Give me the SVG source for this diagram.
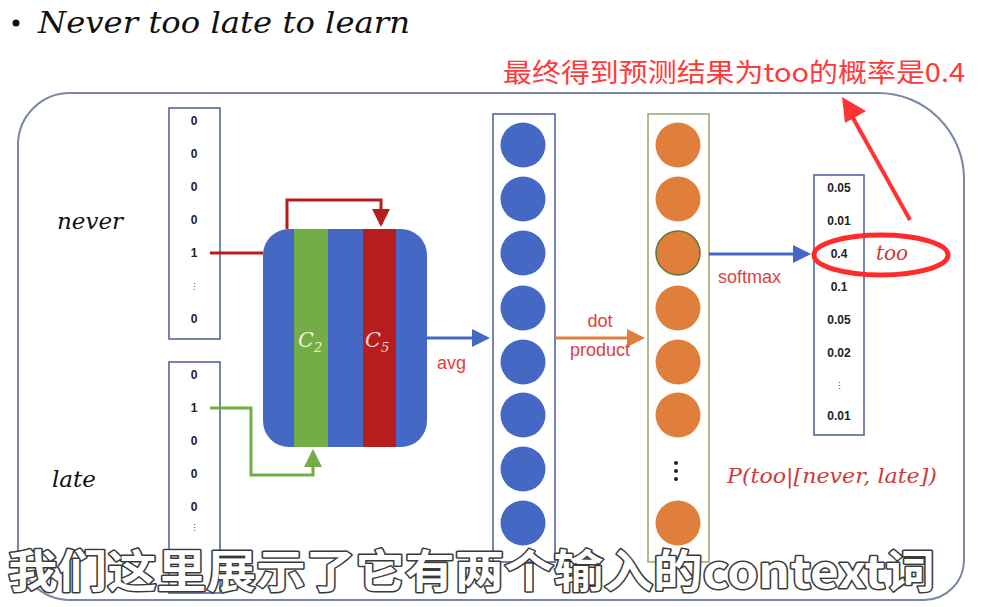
<svg xmlns="http://www.w3.org/2000/svg" width="982" height="607" viewBox="0 0 982 607">
<style>
.num{font-family:"Liberation Sans",Arial,sans-serif;font-weight:bold;font-size:12px;fill:#222;text-anchor:middle}
.dots{font-family:"Liberation Sans",Arial,sans-serif;font-size:9px;fill:#444;text-anchor:middle}
.vbox{fill:#fff;stroke:#4a5a9a;stroke-width:1.5}
.lab{font-family:"Liberation Sans",Arial,sans-serif;font-size:18px;fill:#e04040}
.word{font-family:"DejaVu Serif","Liberation Serif",serif;font-style:italic;font-size:23px;fill:#111}
.it{font-family:"DejaVu Serif","Liberation Serif",serif;font-style:italic}
.bc{fill:#4468c4}
.oc{fill:#e07f3c}
</style>
<defs>
<marker id="ahRed" markerWidth="6" markerHeight="6" refX="5" refY="3" orient="auto" markerUnits="strokeWidth"><path d="M0,0 L6,3 L0,6 z" fill="#b81d1d"/></marker>
<marker id="ahGreen" markerWidth="6" markerHeight="6" refX="5" refY="3" orient="auto" markerUnits="strokeWidth"><path d="M0,0 L6,3 L0,6 z" fill="#72ad47"/></marker>
<marker id="ahBlue" markerWidth="6" markerHeight="6" refX="5" refY="3" orient="auto" markerUnits="strokeWidth"><path d="M0,0 L6,3 L0,6 z" fill="#4468c4"/></marker>
<marker id="ahOrange" markerWidth="6" markerHeight="6" refX="5" refY="3" orient="auto" markerUnits="strokeWidth"><path d="M0,0 L6,3 L0,6 z" fill="#e07f3c"/></marker>
<clipPath id="mclip"><rect x="263" y="229" width="164" height="218" rx="26"/></clipPath>
</defs>
<rect width="982" height="607" fill="#fff"/>

<g id="title">
<circle cx="16" cy="23" r="3.5" fill="#111"/>
<text class="it" x="38" y="33" font-size="30" fill="#111" textLength="372" lengthAdjust="spacingAndGlyphs">Never too late to learn</text>
</g>

<g id="frame">
<path d="M 70 93 H 878 A 86 86 0 0 1 964 179 V 560 A 40 40 0 0 1 924 600 H 70 A 52 52 0 0 1 18 548 V 145 A 52 52 0 0 1 70 93 Z" fill="none" stroke="#7a86a8" stroke-width="2"/>
</g>

<g id="word-never"><text class="word" x="57" y="229">never</text></g>
<g id="word-late"><text class="word" x="52" y="487">late</text></g>

<g id="vec-never">
<rect class="vbox" x="169" y="108" width="51" height="231"/>
<text class="num" x="194" y="125">0</text>
<text class="num" x="194" y="158">0</text>
<text class="num" x="194" y="191">0</text>
<text class="num" x="194" y="224">0</text>
<text class="num" x="194" y="257">1</text>
<text class="dots" x="194" y="290">⋮</text>
<text class="num" x="194" y="323">0</text>
</g>

<g id="vec-late">
<rect class="vbox" x="169" y="362" width="51" height="231"/>
<text class="num" x="194" y="379">0</text>
<text class="num" x="194" y="412">1</text>
<text class="num" x="194" y="445">0</text>
<text class="num" x="194" y="478">0</text>
<text class="num" x="194" y="511">0</text>
<text class="dots" x="194" y="531">⋮</text>
</g>

<g id="matrix">
<g clip-path="url(#mclip)">
<rect x="263" y="229" width="164" height="218" fill="#4468c4"/>
<rect x="294" y="229" width="34" height="218" fill="#72ad47"/>
<rect x="363" y="229" width="33" height="218" fill="#b81d1d"/>
</g>
<text class="it" x="298" y="347" font-size="21" fill="#f3f0d8">C<tspan font-size="13" dy="5">2</tspan></text>
<text class="it" x="365" y="347" font-size="21" fill="#f3d8d8">C<tspan font-size="13" dy="5">5</tspan></text>
</g>

<g id="hidden">
<rect class="vbox" x="493" y="114" width="62" height="448"/>
<circle class="bc" cx="523" cy="145" r="22.5"/>
<circle class="bc" cx="523" cy="199" r="22.5"/>
<circle class="bc" cx="523" cy="253" r="22.5"/>
<circle class="bc" cx="523" cy="308" r="22.5"/>
<circle class="bc" cx="523" cy="362" r="22.5"/>
<circle class="bc" cx="523" cy="415" r="22.5"/>
<circle class="bc" cx="523" cy="469" r="22.5"/>
<circle class="bc" cx="523" cy="523" r="22.5"/>
</g>

<g id="scores">
<rect x="648" y="114" width="61" height="448" fill="#fff" stroke="#9aa56b" stroke-width="1.5"/>
<circle class="oc" cx="678" cy="145" r="22.5"/>
<circle class="oc" cx="678" cy="199" r="22.5"/>
<circle class="oc" cx="678" cy="253" r="22" stroke="#5d7a3a" stroke-width="1.5"/>
<circle class="oc" cx="678" cy="308" r="22.5"/>
<circle class="oc" cx="678" cy="362" r="22.5"/>
<circle class="oc" cx="678" cy="415" r="22.5"/>
<circle cx="676" cy="463" r="2" fill="#222"/>
<circle cx="676" cy="471" r="2" fill="#222"/>
<circle cx="676" cy="479" r="2" fill="#222"/>
<circle class="oc" cx="678" cy="523" r="22.5"/>
</g>

<g id="probs">
<rect class="vbox" x="814" y="175" width="50" height="260"/>
<text class="num" x="839" y="192">0.05</text>
<text class="num" x="839" y="225">0.01</text>
<text class="num" x="839" y="258" fill="#d03a3a" font-weight="normal">0.4</text>
<text class="num" x="839" y="291">0.1</text>
<text class="num" x="839" y="324">0.05</text>
<text class="num" x="839" y="357">0.02</text>
<text class="dots" x="839" y="389">⋮</text>
<text class="num" x="839" y="420">0.01</text>
<text class="it" x="876" y="260" font-size="20" fill="#d03a3a">too</text>
</g>

<g id="prob-label">
<text class="it" x="727" y="483" font-size="20" fill="#d03a3a" textLength="210" lengthAdjust="spacingAndGlyphs">P(too|[never, late])</text>
</g>

<g id="connectors">
<path d="M210 253 H263" fill="none" stroke="#b81d1d" stroke-width="3"/>
<path d="M287 229 V200 H381 V224" fill="none" stroke="#b81d1d" stroke-width="3" marker-end="url(#ahRed)"/>
<path d="M210 408 H251 V475 H313 V452" fill="none" stroke="#72ad47" stroke-width="3" marker-end="url(#ahGreen)"/>
<path d="M427 338 H487" fill="none" stroke="#4468c4" stroke-width="3" marker-end="url(#ahBlue)"/>
<path d="M555 338 H642" fill="none" stroke="#e07f3c" stroke-width="3" marker-end="url(#ahOrange)"/>
<path d="M709 254 H808" fill="none" stroke="#4468c4" stroke-width="3" marker-end="url(#ahBlue)"/>
<text class="lab" x="437" y="369">avg</text>
<text class="lab" x="600" y="327" text-anchor="middle">dot</text>
<text class="lab" x="600" y="356" text-anchor="middle">product</text>
<text class="lab" x="718" y="283">softmax</text>
</g>

<g id="annotation">
<ellipse cx="881" cy="255" rx="67" ry="20" fill="none" stroke="#ff2a2a" stroke-width="5"/>
<path d="M910 220 L853 118" stroke="#ff3333" stroke-width="4" fill="none"/>
<polygon points="842,97 866,111 845,123" fill="#ff3333"/>
<text x="503" y="82" font-family="'Noto Sans CJK SC',sans-serif" font-size="26" fill="#ff3a3a" textLength="462" lengthAdjust="spacingAndGlyphs">最终得到预测结果为too的概率是0.4</text>
</g>

<g id="subtitle">
<text x="8" y="588" font-family="'Noto Sans CJK SC',sans-serif" font-weight="bold" font-size="45" fill="#fff" stroke="#3a3a3a" stroke-width="3" paint-order="stroke" stroke-linejoin="round" textLength="927" lengthAdjust="spacingAndGlyphs">我们这里展示了它有两个输入的context词</text>
</g>
</svg>
